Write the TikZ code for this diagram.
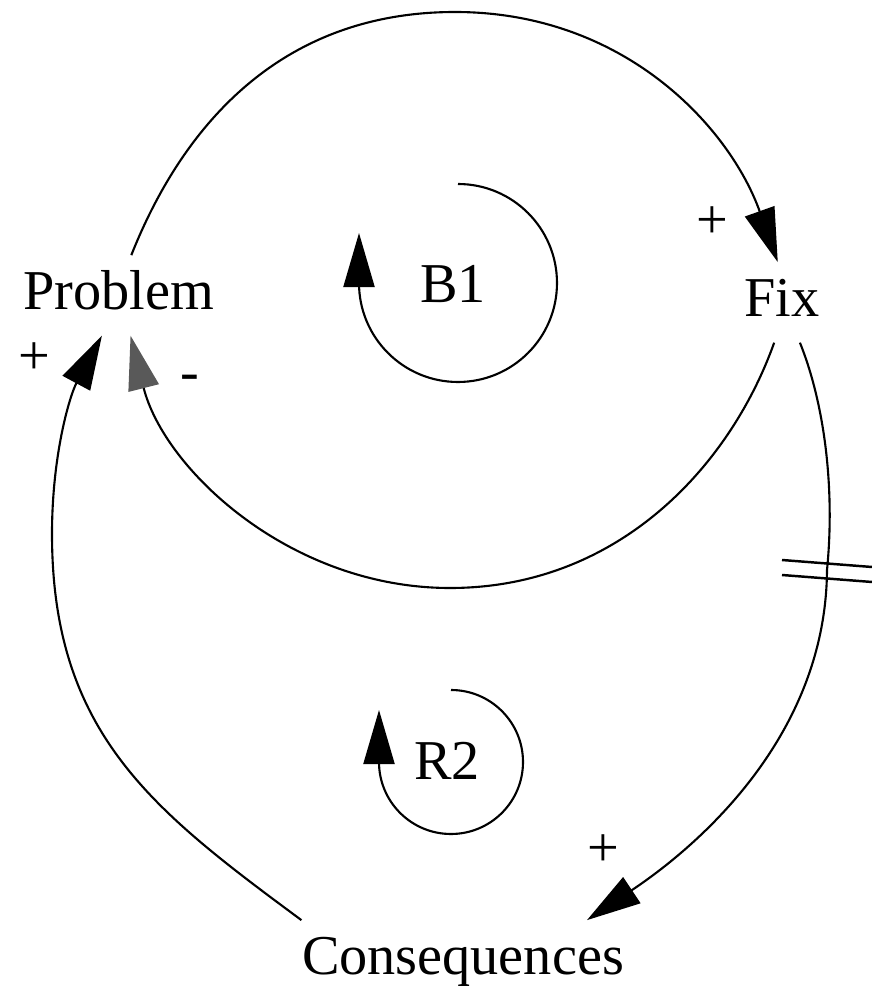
\documentclass[tikz,border=0pt]{standalone}
\usepackage{fontspec}
\setmainfont{Liberation Serif}
\usepackage{tikz}
\usetikzlibrary{arrows.meta}
\tikzset{
  varnode/.style={
    font=\fontsize{16}{19}\selectfont,
    anchor=base,
    inner sep=4.5pt,
    text height=10.9pt,
    text depth=2.6pt
  },
  looplabel/.style={
    font=\fontsize{16}{19}\selectfont,
    anchor=base
  },
  signnode/.style={
    font=\fontsize{16}{19}\selectfont,
    inner sep=0pt
  },
  linkarrow/.style={-{Triangle[length=5.4mm,width=3.1mm]}, line width=0.6pt},
  neglink/.style={-{Triangle[length=5.4mm,width=3.1mm,color=black!65]}, line width=0.6pt},
  delaymark/.style={line width=0.7pt}
}

\begin{document}
\begin{tikzpicture}[x=0.01cm,y=0.01cm]
  \path[use as bounding box,fill=white] (0,0) rectangle (872,990);

  \node[varnode] (problem) at (119,680) {Problem};
  \node[varnode] (fix) at (782,673) {Fix};
  \node[varnode] (cons) at (463,15) {Consequences};
  \node[looplabel] (b1) at (453,687) {B1};
  \node[looplabel] (r2) at (447,210) {R2};

  \coordinate (delay) at (827,420);
  \coordinate (b1loop) at (458,806);
  \coordinate (r2loop) at (451,300);

  \draw[linkarrow] (problem.73) .. controls (185,870) and (285,978) .. (455,978)
    .. controls (625,978) and (730,862) .. (fix.96);
  \draw[neglink] (fix.-101) .. controls (731,526) and (620,402) .. (450,402)
    .. controls (290,402) and (164,521) .. (problem.-74);
  \draw[linkarrow] (fix.-66) .. controls (825,585) and (835,500) .. (delay)
    .. controls (826,260) and (707,150) .. (cons.18);
  \draw[linkarrow] (cons.166) .. controls (154,179) and (52,256) .. (52,456)
    .. controls (52,536) and (70,595) .. (problem.-113);

  \draw[delaymark] ([shift={(-45,10)}]delay) -- ++(90,-7);
  \draw[delaymark] ([shift={(-45,-5)}]delay) -- ++(90,-7);

  \node[signnode] (plusfix) at (712,767) {+};
  \node[signnode] (plusprob) at (34,631) {+};
  \node[signnode] (minusprob) at (190,607) {-};
  \node[signnode] (pluscons) at (603,139) {+};

  \draw[linkarrow] (b1loop) arc[start angle=90,end angle=-180,radius=99] -- ++(0,50);
  \draw[linkarrow] (r2loop) arc[start angle=90,end angle=-180,radius=72] -- ++(0,52);
\end{tikzpicture}
\end{document}
